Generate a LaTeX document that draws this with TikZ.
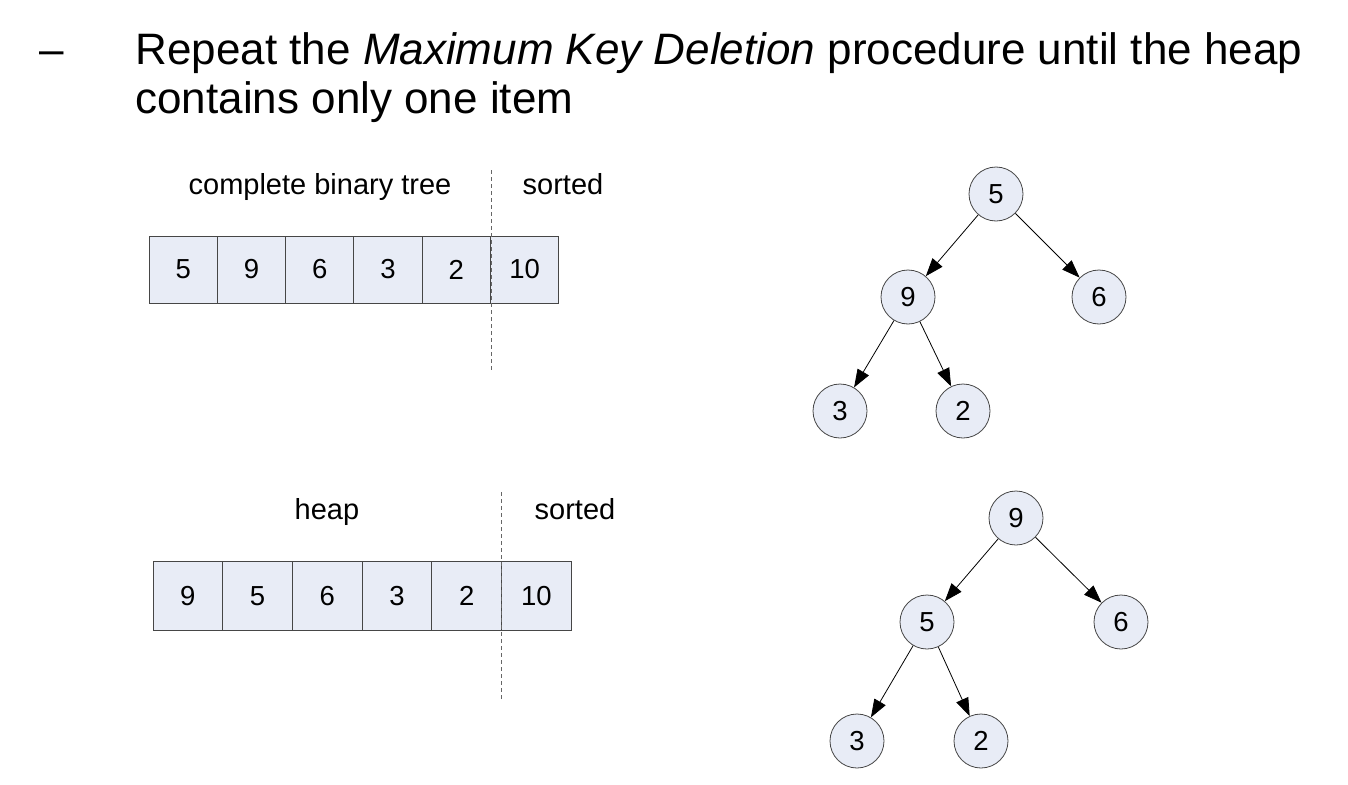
\documentclass[tikz,border=0pt]{standalone}
\usepackage{fontspec}
\setmainfont{Liberation Sans}
\usetikzlibrary{positioning,arrows.meta}
\definecolor{cellfill}{RGB}{232,236,246}
\definecolor{edgegray}{RGB}{70,70,70}

\begin{document}
\begin{tikzpicture}[x=1pt, y=-1pt, on grid, font=\fontsize{27.5}{32}\selectfont,
    cell/.style={rectangle, draw=edgegray, fill=cellfill, line width=1pt, minimum width=68.3pt, minimum height=67pt, inner sep=0pt, outer sep=0pt},
    key/.style={circle, draw=edgegray, fill=cellfill, line width=0.8pt, minimum size=54pt, inner sep=0pt},
    link/.style={-{Triangle[length=18pt,width=13pt]}, line width=0.8pt},
    cut/.style={draw=black!60, line width=0.8pt, dash pattern=on 4pt off 3pt},
    lbl/.style={anchor=base, font=\fontsize{29}{34}\selectfont}]
    \useasboundingbox (0,0) rectangle (1348,784);

    % title
    \node[anchor=base, font=\fontsize{44}{50}\selectfont] (dash) at (52,64) {--};
    \node[anchor=base west, font=\fontsize{44}{50}\selectfont] (title1) at (132,64)
        {Repeat the \textit{Maximum Key Deletion} procedure until the heap};
    \node[anchor=base west, font=\fontsize{44}{50}\selectfont] (title2) at (132,113)
        {contains only one item};

    % first array
    \node[lbl] (lab1) at (320,194) {complete binary tree};
    \node[lbl] (srt1) at (563,194) {sorted};
    \node[cell] (a1) at (183.15,269.5) {5};
    \node[cell, right=68.3pt of a1] (a2) {9};
    \node[cell, right=68.3pt of a2] (a3) {6};
    \node[cell, right=68.3pt of a3] (a4) {3};
    \node[cell, right=68.3pt of a4] (a5) {2};
    \node[cell, right=68.3pt of a5] (a6) {10};
    \coordinate (cut1a) at (491,170);
    \coordinate (cut1b) at (491,372);
    \draw[cut] (cut1a) -- (cut1b);

    % first tree
    \node[key] (r1) at (996,194) {5};
    \node[key, below left=103pt and 88pt of r1] (n9) {9};
    \node[key, below right=103pt and 103pt of r1] (n6) {6};
    \node[key, below left=114pt and 68pt of n9] (n3) {3};
    \node[key, below right=114pt and 55pt of n9] (n2) {2};
    \draw[link] (r1) -- (n9);
    \draw[link] (r1) -- (n6);
    \draw[link] (n9) -- (n3);
    \draw[link] (n9) -- (n2);

    % second array
    \node[lbl] (lab2) at (327,519) {heap};
    \node[lbl] (srt2) at (575,519) {sorted};
    \node[cell, minimum width=69.7pt, minimum height=69pt] (b1) at (187.85,596) {9};
    \node[cell, minimum width=69.7pt, minimum height=69pt, right=69.7pt of b1] (b2) {5};
    \node[cell, minimum width=69.7pt, minimum height=69pt, right=69.7pt of b2] (b3) {6};
    \node[cell, minimum width=69.7pt, minimum height=69pt, right=69.7pt of b3] (b4) {3};
    \node[cell, minimum width=69.7pt, minimum height=69pt, right=69.7pt of b4] (b5) {2};
    \node[cell, minimum width=69.7pt, minimum height=69pt, right=69.7pt of b5] (b6) {10};
    \coordinate (cut2a) at (501,492);
    \coordinate (cut2b) at (501,700);
    \draw[cut] (cut2a) -- (cut2b);

    % second tree
    \node[key] (r2) at (1016,518) {9};
    \node[key, below left=104pt and 89pt of r2] (m5) {5};
    \node[key, below right=104pt and 105pt of r2] (m6) {6};
    \node[key, below left=119pt and 70pt of m5] (m3) {3};
    \node[key, below right=119pt and 54pt of m5] (m2) {2};
    \draw[link] (r2) -- (m5);
    \draw[link] (r2) -- (m6);
    \draw[link] (m5) -- (m3);
    \draw[link] (m5) -- (m2);
\end{tikzpicture}
\end{document}
